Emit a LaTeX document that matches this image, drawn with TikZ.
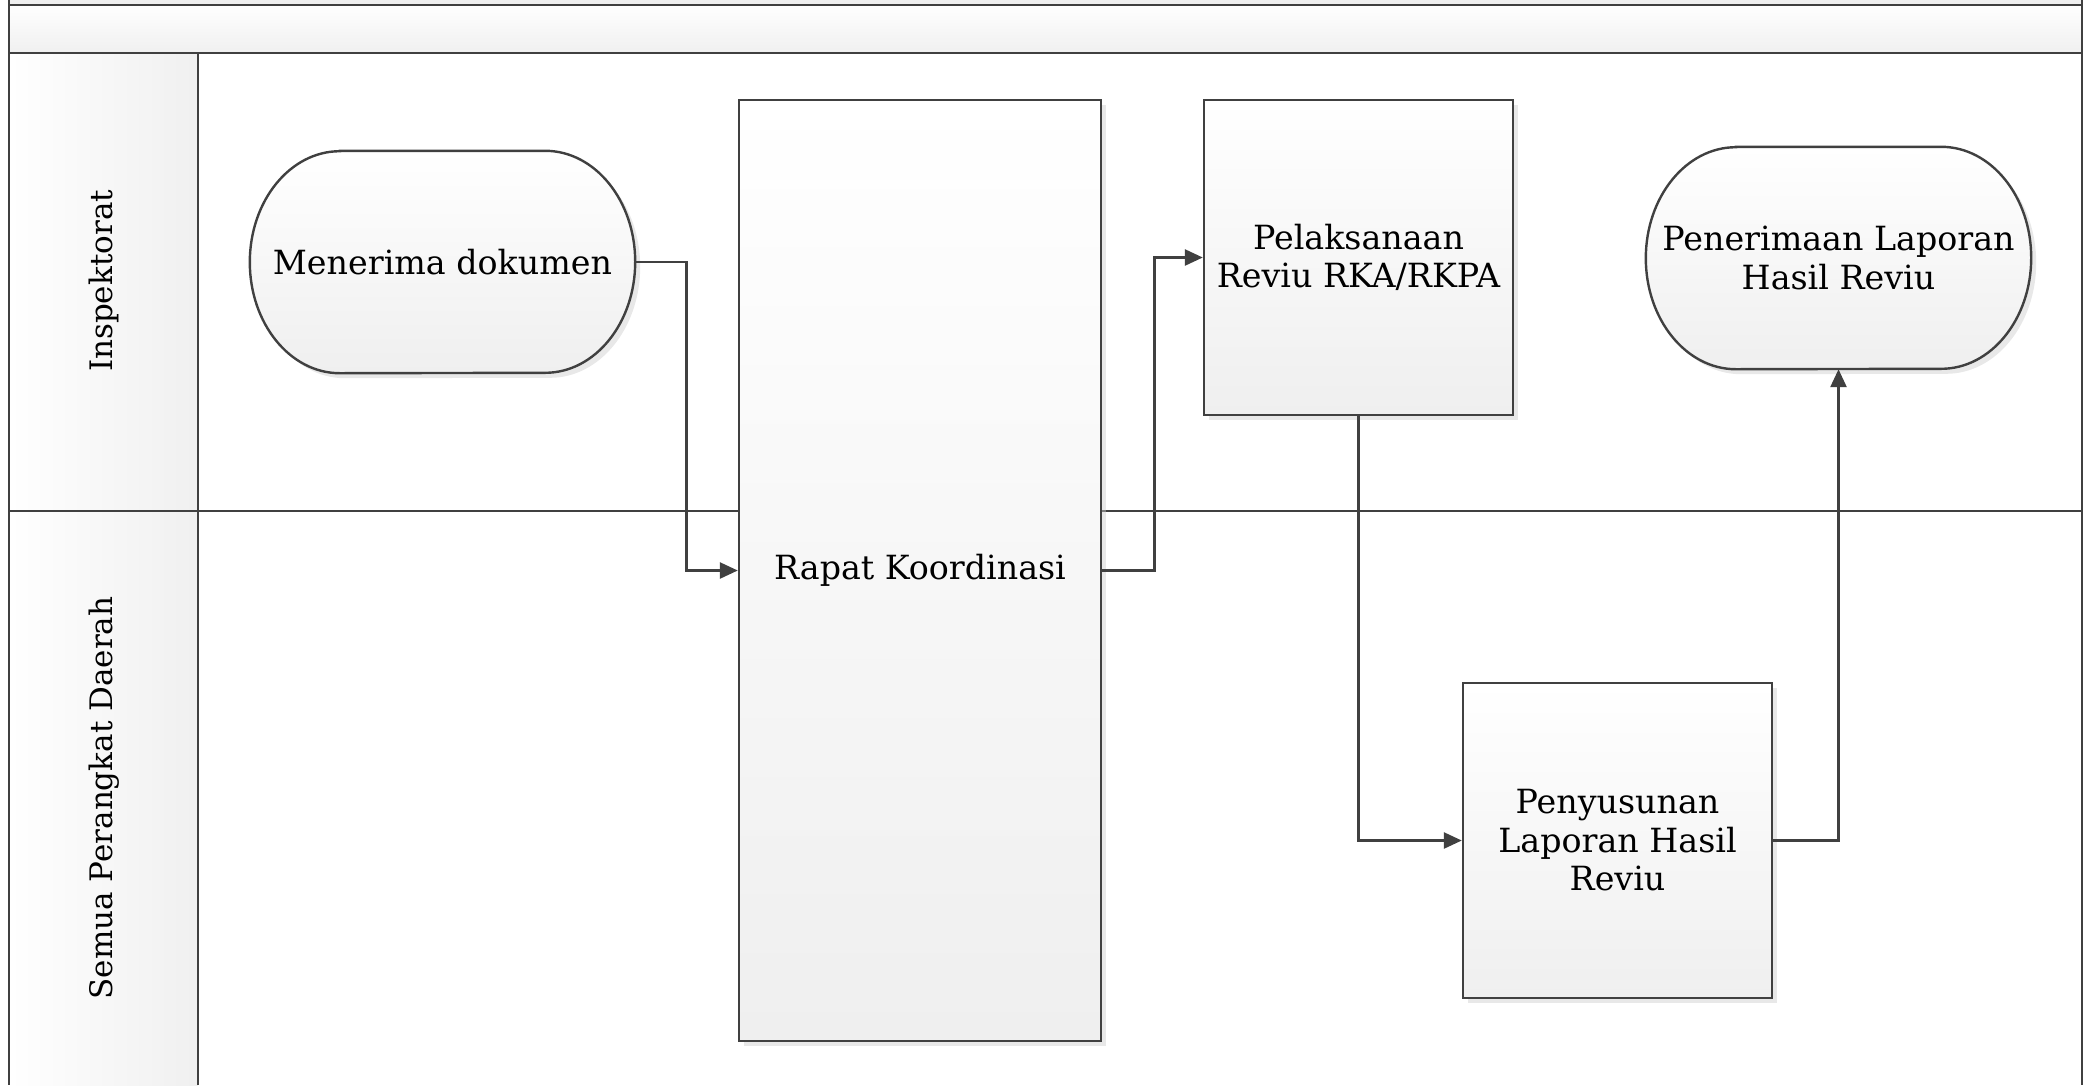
\documentclass[tikz,border=0pt]{standalone}
\usepackage{fontspec}
\setmainfont{DejaVu Serif}
\usetikzlibrary{calc,arrows.meta,shadows}
\pgfdeclarelayer{back}
\pgfdeclarelayer{mid}
\pgfsetlayers{back,mid,main}
\definecolor{ln}{HTML}{404040}
\definecolor{gr}{HTML}{EFEFEF}
\newcommand\lbl{\fontsize{33.3}{38.5}\selectfont}
\newcommand\lanefont{\fontsize{31}{38.5}\selectfont}
\tikzset{
  frameline/.style={draw=ln, line width=2.2pt},
  shadowed/.style={drop shadow={shadow xshift=5pt,shadow yshift=-5pt,fill=black!20,opacity=0.45}},
  boxnode/.style={draw=ln, line width=2.4pt, top color=white, bottom color=gr, shadowed,
    align=center, inner sep=0pt, font=\lbl},
  termshape/.style={draw=ln, line width=2.4pt, top color=white, bottom color=gr, shadowed},
  termnode/.style={draw=none, fill=none, align=center, inner sep=0pt, font=\lbl},
  conn/.style={draw=ln, line width=2.6pt, -{Triangle[length=18pt,width=16pt]}},
  lanelabel/.style={rotate=90, font=\lanefont, inner sep=0pt}
}
\newcommand\termoutline[1]{%
  \path[termshape] ($(#1.north west)+(90,0)$) -- ($(#1.north east)+(-90,0)$)
    arc[start angle=90,end angle=-90,x radius=90pt,y radius=111pt]
    -- ($(#1.south west)+(90,0)$)
    arc[start angle=270,end angle=90,x radius=90pt,y radius=111pt] -- cycle;}
\begin{document}
\begin{tikzpicture}[x=1pt,y=-1pt]
\useasboundingbox (0,0) rectangle (2087,1085);
\begin{pgfonlayer}{back}
  % title bar
  \fill[black!6] (9,0) rectangle (2082,5);
  \shade[top color=white, bottom color=black!6] (9,5) rectangle (2082,53);
  % header column
  \shade[left color=white, right color=black!6] (9,53) rectangle (198,1085);
  \draw[frameline] (9,5) -- (2082,5);
  \draw[frameline] (9,53) -- (2082,53);
  \draw[frameline] (9,511) -- (2082,511);
  \draw[frameline] (9,0) -- (9,1085);
  \draw[frameline] (198,53) -- (198,1085);
  \draw[frameline] (2082,0) -- (2082,1085);
\end{pgfonlayer}

\node[lanelabel] (l1) at (104,281) {Inspektorat};
\node[lanelabel] (l2) at (104,798) {Semua Perangkat Daerah};

\node[termnode, minimum width=385pt, minimum height=222pt] (men) at (442.5,262) {Menerima dokumen};
\node[termnode, minimum width=385pt, minimum height=222pt] (ter) at (1838.5,258) {Penerimaan Laporan\\Hasil Reviu};
\begin{pgfonlayer}{mid}
  \termoutline{men}
  \termoutline{ter}
\end{pgfonlayer}

\node[boxnode, minimum width=362pt, minimum height=941pt] (rap) at (920,570.5) {Rapat Koordinasi};
\node[boxnode, minimum width=309pt, minimum height=315pt] (pel) at (1358.5,257.5) {Pelaksanaan\\Reviu RKA/RKPA};
\node[boxnode, minimum width=309pt, minimum height=315pt] (pen) at (1617.5,840.5) {Penyusunan\\Laporan Hasil\\Reviu};

\draw[conn] (men.east) -- ++(51,0) |- (rap.west);
\draw[conn] (rap.east) -- ++(52,0) |- (pel.west);
\draw[conn] (pel.south) |- (pen.west);
\draw[conn] (pen.east) -| (ter.south);
\end{tikzpicture}
\end{document}
